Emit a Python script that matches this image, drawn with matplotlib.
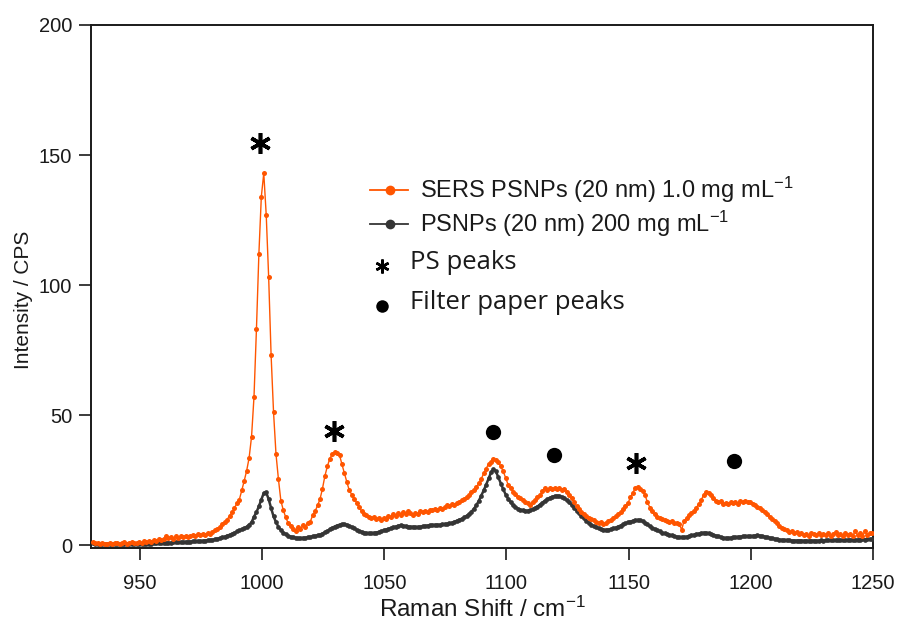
import numpy as np
import matplotlib
matplotlib.use("Agg")
import matplotlib.pyplot as plt

plt.rcParams["font.family"] = ["Liberation Sans", "DejaVu Sans"]
plt.rcParams["mathtext.fontset"] = "custom"
plt.rcParams["mathtext.rm"] = "Liberation Sans"
plt.rcParams["mathtext.it"] = "Liberation Sans:italic"

# Raman shift grid (cm^-1): first sample and spacing
shift_start = 930.7
shift_step = 1.0

# SERS spectrum of PSNPs (20 nm), 1.0 mg/mL  (counts per second)
sers_cps = [
    1.0, 0.6, 0.9, 0.4, 0.8, 0.5, 0.3, 0.7, 0.5, 0.9,
    0.6, 0.4, 0.8, 1.0, 0.5, 0.7, 1.1, 0.6, 0.9, 1.2,
    0.8, 1.4, 1.1, 1.6, 1.3, 1.9, 1.5, 2.2, 1.8, 2.4,
    3.4, 2.6, 3.0, 2.4, 3.3, 2.8, 3.5, 2.9, 3.6, 3.1,
    3.5, 3.9, 3.3, 4.1, 3.7, 4.4, 4.0, 4.7, 4.4, 5.0,
    5.6, 6.3, 7.0, 7.9, 8.9, 9.8, 11.2, 12.6, 14.3, 16.0,
    17.5, 21.0, 24.7, 28.6, 33.5, 41.7, 57.0, 83.0, 112.0, 134.0,
    143.0, 127.0, 103.0, 73.0, 51.0, 35.0, 25.3, 17.0, 13.4, 10.6,
    8.4, 7.4, 6.2, 5.3, 7.1, 6.0, 7.6, 7.0, 8.4, 8.9,
    11.4, 13.0, 15.2, 17.6, 21.6, 26.5, 30.2, 33.2, 34.9, 35.6,
    35.4, 34.6, 31.0, 27.6, 24.2, 21.0, 19.4, 17.8, 16.3, 14.6,
    13.0, 12.1, 11.4, 10.9, 10.2, 10.8, 9.9, 10.4, 9.6, 10.5,
    10.1, 11.2, 10.6, 11.8, 11.0, 12.3, 11.6, 12.6, 12.0, 12.9,
    12.2, 11.5, 12.4, 12.0, 12.9, 12.6, 13.2, 12.8, 13.6, 13.3,
    13.9, 13.4, 14.2, 13.8, 14.6, 15.3, 14.9, 15.6, 15.2, 16.1,
    16.6, 17.2, 17.8, 18.5, 19.4, 20.2, 21.1, 22.2, 23.8, 25.4,
    27.6, 29.4, 31.2, 32.1, 33.2, 32.6, 31.8, 30.2, 28.3, 25.8,
    23.2, 21.9, 20.4, 19.5, 18.4, 17.9, 17.2, 16.5, 16.0, 15.4,
    16.6, 17.4, 18.5, 19.3, 20.6, 21.8, 21.2, 22.0, 21.5, 21.9,
    21.4, 22.0, 21.2, 21.5, 20.4, 19.2, 18.0, 16.4, 14.9, 13.8,
    12.6, 11.9, 11.1, 10.4, 10.0, 9.5, 9.0, 8.6, 8.9, 8.1,
    8.6, 9.2, 9.8, 10.3, 11.0, 11.9, 12.6, 13.8, 14.9, 16.0,
    18.3, 20.0, 22.0, 22.3, 21.6, 20.9, 19.2, 16.5, 14.4, 12.9,
    11.8, 10.9, 10.3, 9.9, 9.5, 9.3, 8.9, 9.2, 8.6, 8.4,
    8.2, 5.8, 9.4, 10.3, 11.4, 12.3, 13.1, 14.4, 15.7, 17.2,
    19.4, 20.4, 20.1, 19.3, 18.0, 17.0, 16.4, 16.8, 15.9, 16.2,
    15.8, 16.4, 16.0, 16.6, 15.9, 16.8, 16.5, 17.0, 16.4, 16.7,
    15.8, 15.2, 14.6, 14.1, 13.4, 12.7, 11.9, 10.8, 10.0, 9.1,
    8.3, 7.4, 6.6, 6.0, 5.6, 5.0, 5.3, 4.6, 4.9, 4.3,
    4.6, 3.9, 4.4, 3.6, 4.8, 4.1, 3.7, 4.5, 3.9, 4.3,
    3.8, 4.6, 3.5, 4.2, 5.0, 3.7, 4.4, 3.4, 4.7, 4.0,
    4.3, 3.6, 5.2, 3.8, 4.5, 3.3, 5.4, 3.9, 4.6, 4.8,
]

# Normal Raman spectrum of PSNPs (20 nm), 200 mg/mL  (counts per second)
raman_cps = [
    0.6, 0.5, 0.4, 0.5, 0.3, 0.4, 0.3, 0.4, 0.2, 0.3,
    0.3, 0.2, 0.3, 0.2, 0.3, 0.2, 0.3, 0.3, 0.2, 0.3,
    0.3, 0.4, 0.4, 0.5, 0.5, 0.6, 0.6, 0.7, 0.7, 0.8,
    0.8, 0.9, 0.9, 1.0, 1.0, 1.1, 1.1, 1.2, 1.2, 1.3,
    1.3, 1.4, 1.4, 1.5, 1.5, 1.6, 1.7, 1.8, 1.9, 2.0,
    2.2, 2.4, 2.6, 2.9, 3.2, 3.6, 3.9, 4.3, 4.7, 5.2,
    5.6, 6.0, 6.5, 7.0, 7.8, 8.7, 10.9, 12.6, 14.9, 17.5,
    20.0, 20.2, 17.6, 14.2, 11.0, 8.8, 7.0, 5.7, 4.8, 4.1,
    3.6, 3.2, 2.9, 2.8, 2.6, 2.6, 2.7, 2.8, 3.0, 3.1,
    3.3, 3.5, 3.7, 4.0, 4.4, 4.9, 5.4, 6.0, 6.6, 7.1,
    7.5, 7.8, 8.0, 8.0, 7.8, 7.4, 6.9, 6.4, 5.9, 5.4,
    5.1, 4.8, 4.6, 4.5, 4.5, 4.6, 4.8, 5.0, 5.3, 5.6,
    5.9, 6.2, 6.5, 6.8, 7.1, 7.4, 7.6, 7.5, 7.3, 7.1,
    7.0, 7.0, 6.9, 6.9, 7.0, 7.2, 7.3, 7.5, 7.6, 7.7,
    7.7, 7.8, 7.8, 7.9, 8.0, 8.1, 8.3, 8.6, 8.9, 9.3,
    9.7, 10.1, 10.6, 11.2, 11.9, 12.8, 13.9, 15.3, 17.0, 19.0,
    21.0, 23.2, 25.6, 27.9, 29.2, 28.3, 26.0, 23.6, 21.4, 19.4,
    17.8, 16.4, 15.3, 14.6, 14.0, 13.6, 13.3, 13.2, 13.2, 13.4,
    13.7, 14.2, 14.8, 15.5, 16.3, 17.0, 17.6, 18.1, 18.5, 18.8,
    18.9, 18.8, 18.5, 18.0, 17.3, 16.4, 15.4, 14.3, 13.2, 12.2,
    11.2, 10.2, 9.3, 8.5, 7.8, 7.2, 6.8, 6.4, 6.1, 5.9,
    5.8, 5.9, 6.1, 6.4, 6.7, 7.1, 7.5, 7.9, 8.3, 8.7,
    9.0, 9.3, 9.5, 9.6, 9.5, 9.2, 8.6, 7.9, 7.2, 6.6,
    6.1, 5.6, 5.2, 4.8, 4.5, 4.2, 3.9, 3.7, 3.4, 3.2,
    3.0, 2.9, 3.0, 3.2, 3.4, 3.7, 3.9, 4.2, 4.4, 4.6,
    4.7, 4.7, 4.5, 4.2, 3.9, 3.6, 3.3, 3.0, 2.8, 2.7,
    2.7, 2.8, 2.9, 3.0, 3.1, 3.2, 3.3, 3.3, 3.3, 3.3,
    3.4, 3.6, 3.7, 3.6, 3.4, 3.2, 3.0, 2.8, 2.6, 2.4,
    2.2, 2.1, 2.0, 1.9, 1.8, 1.8, 1.7, 1.7, 1.7, 1.7,
    1.7, 1.6, 1.7, 1.6, 1.7, 1.7, 1.6, 1.7, 1.8, 1.7,
    1.8, 1.8, 1.9, 1.8, 1.9, 1.9, 1.9, 2.0, 1.9, 2.0,
    2.0, 2.1, 2.0, 2.1, 2.1, 2.2, 2.1, 2.2, 2.2, 2.3,
]

# Peak assignments: polystyrene bands (asterisks) and filter-paper bands (dots)
ps_peak_shift = [999.1, 1029.4, 1153.0]
ps_peak_mark_y = [154.5, 44.0, 31.4]
paper_peak_shift = [1094.7, 1119.5, 1193.3]
paper_peak_mark_y = [43.3, 34.6, 32.3]

x_ticks = [950, 1000, 1050, 1100, 1150, 1200, 1250]
y_ticks = [0, 50, 100, 150, 200]

sers_label = "SERS PSNPs (20 nm) 1.0 mg mL$^{-1}$"
raman_label = "PSNPs (20 nm) 200 mg mL$^{-1}$"
ps_label = "PS peaks"
paper_label = "Filter paper peaks"

ORANGE = "#FF5500"
DARK = "#353535"
INK = "#1a1a1a"

shift = shift_start + shift_step * np.arange(len(sers_cps))

fig = plt.figure(figsize=(8.97, 6.24), dpi=100)
ax = fig.add_axes([91 / 897, 1 - 548 / 624, 782 / 897, 523 / 624])

ax.plot(shift, raman_cps, color=DARK, lw=1.8, marker="o", ms=3.4,
        mec=DARK, mfc=DARK, mew=0, zorder=3)
ax.plot(shift, sers_cps, color=ORANGE, lw=1.0, marker="o", ms=3.6,
        mec=ORANGE, mfc=ORANGE, mew=0, zorder=4)

ax.plot(ps_peak_shift, ps_peak_mark_y, ls="none", marker=(6, 2, 0),
        ms=15, mew=2.6, color="black", zorder=5)
ax.plot(paper_peak_shift, paper_peak_mark_y, ls="none", marker="o",
        ms=11, color="black", mew=0, zorder=5)

ax.set_xlim(930, 1250)
ax.set_ylim(-1.15, 200)
ax.set_xticks(x_ticks)
ax.set_yticks(y_ticks)
ax.tick_params(axis="both", direction="out", length=8.5, width=1.2,
               labelsize=14.5, colors=INK, pad=5)
ax.tick_params(axis="x", pad=10)
for sp in ax.spines.values():
    sp.set_linewidth(1.4)
    sp.set_color(INK)

ax.set_xlabel("Raman Shift / cm$^{-1}$", fontsize=17.5, color=INK)
ax.set_ylabel("Intensity / CPS", fontsize=15, color=INK)
ax.xaxis.set_label_coords((482 - 91) / 782, (548 - 597) / 523)
ax.yaxis.set_label_coords((33 - 91) / 782, (548 - 300) / 523)


# Key for the two spectra and the peak symbols
def ax_xy(px, py):
    return ((px - 91) / 782, (548 - py) / 523)


for (py, col, lab) in [(190, ORANGE, sers_label), (224, DARK, raman_label)]:
    x0, y0 = ax_xy(370, py)
    x1, _ = ax_xy(408, py)
    xm, _ = ax_xy(390, py)
    ax.plot([x0, x1], [y0, y0], transform=ax.transAxes, color=col, lw=1.3,
            zorder=6, clip_on=False)
    ax.plot([xm], [y0], transform=ax.transAxes, marker="o", ms=7, color=col,
            mew=0, zorder=6, clip_on=False)
    tx, _ = ax_xy(420, py)
    ax.text(tx, y0, lab, transform=ax.transAxes, fontsize=17, color=INK,
            va="center", ha="left")

sym_x, _ = ax_xy(382, 0)
txt_x, _ = ax_xy(410, 0)
_, ps_y = ax_xy(0, 266)
_, pp_y = ax_xy(0, 306)
ax.plot([sym_x], [ps_y], transform=ax.transAxes, marker=(6, 2, 0), ms=10,
        mew=1.8, color="black", ls="none", clip_on=False)
ax.plot([sym_x], [pp_y], transform=ax.transAxes, marker="o", ms=9,
        color="black", mew=0, ls="none", clip_on=False)
ax.text(txt_x, ps_y + 0.006, ps_label, transform=ax.transAxes, fontsize=18.5,
        family=["Open Sans", "DejaVu Sans"], color=INK, va="center", ha="left")
ax.text(txt_x, pp_y + 0.006, paper_label, transform=ax.transAxes, fontsize=18.5,
        family=["Open Sans", "DejaVu Sans"], color=INK, va="center", ha="left")

fig.savefig("out.png", dpi=100)
